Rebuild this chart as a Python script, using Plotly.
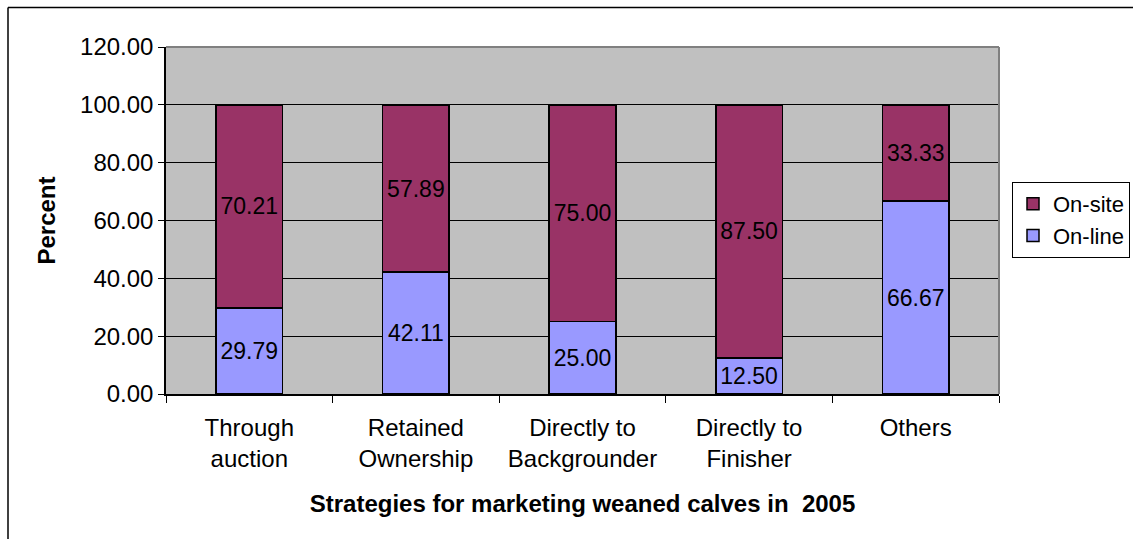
import plotly.graph_objects as go

# Marketing strategies for weaned calves, 2005 (percent of producers)
categories = ["Through<br>auction", "Retained<br>Ownership", "Directly to<br>Backgrounder",
              "Directly to<br>Finisher", "Others"]
on_line = [29.79, 42.11, 25.00, 12.50, 66.67]
on_site = [70.21, 57.89, 75.00, 87.50, 33.33]
y_ticks = [0, 20, 40, 60, 80, 100, 120]

W, H = 1133, 539
L, R, T, B = 166, 134, 47, 145
pw, ph = W - L - R, H - T - B

FONT = "Liberation Sans, Arial, sans-serif"


def px_x(px):
    return (px - L) / pw


def px_y(py):
    return (H - B - py) / ph


fig = go.Figure()
fig.add_trace(go.Bar(
    x=categories, y=on_line, name="On-line", legendgroup="a",
    marker=dict(color="#9999FF", line=dict(color="black", width=1.5)),
    text=on_line, texttemplate="%{text:.2f}", textposition="inside",
    insidetextanchor="middle", constraintext="none",
    textfont=dict(color="black", size=23, family=FONT), width=0.4,
))
fig.add_trace(go.Bar(
    x=categories, y=on_site, name="On-site", legendgroup="b",
    marker=dict(color="#993366", line=dict(color="black", width=1.5)),
    text=on_site, texttemplate="%{text:.2f}", textposition="inside",
    insidetextanchor="middle", constraintext="none",
    textfont=dict(color="black", size=23, family=FONT), width=0.4,
))

fig.update_layout(
    width=W, height=H,
    margin=dict(l=L, r=R, t=T, b=B, autoexpand=False),
    barmode="stack",
    paper_bgcolor="white", plot_bgcolor="#C0C0C0",
    font=dict(family=FONT, size=24, color="black"),
    showlegend=True,
    legend=dict(
        xref="container", yref="container",
        x=1012 / W, y=(H - 220) / H, xanchor="left", yanchor="middle",
        bordercolor="black", borderwidth=1, bgcolor="white",
        traceorder="reversed", tracegroupgap=10, itemwidth=30,
        font=dict(size=22, family=FONT, color="black"),
    ),
    xaxis=dict(
        showline=True, linecolor="black", linewidth=1.5,
        ticks="outside", ticklen=7, tickcolor="black", tickson="boundaries",
        ticklabelstandoff=11,
        showgrid=False,
        tickfont=dict(size=24),
        title=dict(text="<b>Strategies for marketing weaned calves in  2005</b>",
                   font=dict(size=24, family=FONT), standoff=24),
    ),
    yaxis=dict(
        range=[0, 120], tickvals=y_ticks, tickformat=".2f",
        showline=True, linecolor="black", linewidth=1.5,
        ticks="outside", ticklen=6, tickcolor="black",
        showgrid=True, gridcolor="black", gridwidth=1,
        zeroline=False,
        tickfont=dict(size=24),
        title=dict(text="<b>Percent</b>", font=dict(size=24, family=FONT), standoff=18),
    ),
    shapes=[
        # plot-area frame (top and right edges)
        dict(type="line", xref="paper", yref="paper", x0=0, x1=1, y0=1, y1=1,
             line=dict(color="#808080", width=2), layer="above"),
        dict(type="line", xref="paper", yref="paper", x0=1, x1=1, y0=0, y1=1,
             line=dict(color="#808080", width=2), layer="above"),
        # chart-area border
        dict(type="line", xref="paper", yref="paper", x0=px_x(8), x1=px_x(W + 5),
             y0=px_y(7.5), y1=px_y(7.5), line=dict(color="black", width=1.5)),
        dict(type="line", xref="paper", yref="paper", x0=px_x(8), x1=px_x(8),
             y0=px_y(7.5), y1=px_y(H + 5), line=dict(color="black", width=1.5)),
    ],
)

fig.write_html("out.html")
